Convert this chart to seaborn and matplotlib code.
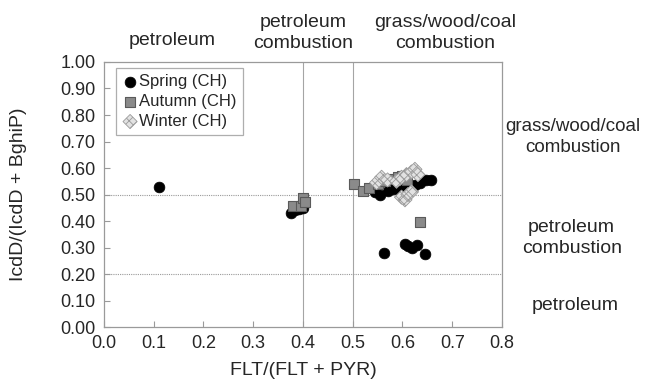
import matplotlib
matplotlib.use("Agg")
import matplotlib.pyplot as plt
import seaborn as sns
import pandas as pd

# FLT/(FLT+PYR) vs IcdD/(IcdD+BghiP)
spring_x = [0.11, 0.375, 0.384, 0.392, 0.40,
            0.545, 0.555, 0.57, 0.58, 0.595, 0.605, 0.615, 0.625, 0.635, 0.648, 0.658,
            0.562, 0.605, 0.612, 0.62, 0.63, 0.645]
spring_y = [0.53, 0.43, 0.44, 0.445, 0.45,
            0.51, 0.50, 0.515, 0.52, 0.515, 0.525, 0.53, 0.535, 0.545, 0.555, 0.555,
            0.28, 0.315, 0.305, 0.30, 0.31, 0.275]

autumn_x = [0.38, 0.395, 0.40, 0.405, 0.503, 0.52, 0.533, 0.55, 0.565, 0.578, 0.59, 0.60, 0.61, 0.635]
autumn_y = [0.455, 0.455, 0.485, 0.47, 0.54, 0.515, 0.525, 0.54, 0.55, 0.56, 0.565, 0.57, 0.555, 0.395]

winter_x = [0.548, 0.558, 0.57, 0.588, 0.598, 0.608, 0.618, 0.625, 0.631, 0.598, 0.605, 0.611, 0.618]
winter_y = [0.545, 0.565, 0.555, 0.55, 0.565, 0.575, 0.585, 0.595, 0.575, 0.49, 0.48, 0.50, 0.51]

x_ticks = [0.0, 0.1, 0.2, 0.3, 0.4, 0.5, 0.6, 0.7, 0.8]
y_ticks = [0.0, 0.1, 0.2, 0.3, 0.4, 0.5, 0.6, 0.7, 0.8, 0.9, 1.0]

df = pd.concat([
    pd.DataFrame({"x": spring_x, "y": spring_y, "season": "Spring (CH)"}),
    pd.DataFrame({"x": autumn_x, "y": autumn_y, "season": "Autumn (CH)"}),
    pd.DataFrame({"x": winter_x, "y": winter_y, "season": "Winter (CH)"}),
])

sns.set_theme(style="white")
plt.rcParams["font.family"] = ["Liberation Sans", "DejaVu Sans"]
plt.rcParams["hatch.linewidth"] = 0.6

fig = plt.figure(figsize=(6.45, 3.87), dpi=100)
ax = fig.add_axes([0.1612, 0.155, 0.6171, 0.6848])

# source boundary lines
for xv in (0.4, 0.5):
    ax.axvline(xv, color="#a5a5a5", lw=0.8, zorder=0)
for yv in (0.2, 0.5):
    ax.axhline(yv, color="#9a9a9a", lw=0.8, ls=(0, (1, 1)), zorder=0)

styles = {
    "Spring (CH)": dict(marker="o", s=60, color="black", edgecolor="black", linewidth=0.5),
    "Autumn (CH)": dict(marker="s", s=60, color="#8a8a8a", edgecolor="#5a5a5a", linewidth=0.8),
    "Winter (CH)": dict(marker="D", s=52, color="#e2e2e2", edgecolor="#9a9a9a", linewidth=0.6, hatch="xxxx"),
}
for season, kw in styles.items():
    sub = df[df["season"] == season]
    sns.scatterplot(data=sub, x="x", y="y", ax=ax, label=season, zorder=3, **kw)

ax.set_xlim(0, 0.8)
ax.set_ylim(0, 1.0)
ax.set_xticks(x_ticks)
ax.set_yticks(y_ticks)
ax.set_xticklabels([f"{v:.1f}" for v in x_ticks], fontsize=13)
ax.set_yticklabels([f"{v:.2f}" for v in y_ticks], fontsize=13)
ax.tick_params(direction="in", length=4, width=0.8, color="#9a9a9a", pad=6)
ax.tick_params(axis="x", bottom=True)
ax.tick_params(axis="y", left=True)
for sp in ax.spines.values():
    sp.set_color("#9a9a9a")
    sp.set_linewidth(0.9)

ax.set_xlabel("FLT/(FLT + PYR)", fontsize=14, labelpad=7)
ax.set_ylabel("IcdD/(IcdD + BghiP)", fontsize=14, labelpad=24)

leg = ax.legend(loc="upper left", bbox_to_anchor=(0.03, 0.977), borderaxespad=0,
                fontsize=12, frameon=True, fancybox=False, handletextpad=0.05,
                handlelength=1.0, labelspacing=0.3, borderpad=0.35)
leg.get_frame().set_edgecolor("#9a9a9a")
leg.get_frame().set_linewidth(0.9)

# source labels above the plot
top_kw = dict(fontsize=14, ha="center", va="center", linespacing=1.3, clip_on=False)
ax.text(0.137, 1.083, "petroleum", **top_kw)
ax.text(0.40, 1.108, "petroleum\ncombustion", **top_kw)
ax.text(0.685, 1.108, "grass/wood/coal\ncombustion", **top_kw)

# source labels on the right
ax.text(0.942, 0.717, "grass/wood/coal\ncombustion", fontsize=13.5, ha="center",
        va="center", linespacing=1.3, clip_on=False)
ax.text(0.94, 0.336, "petroleum\ncombustion", **top_kw)
ax.text(0.947, 0.083, "petroleum", **top_kw)

fig.savefig("out.png", dpi=100)
